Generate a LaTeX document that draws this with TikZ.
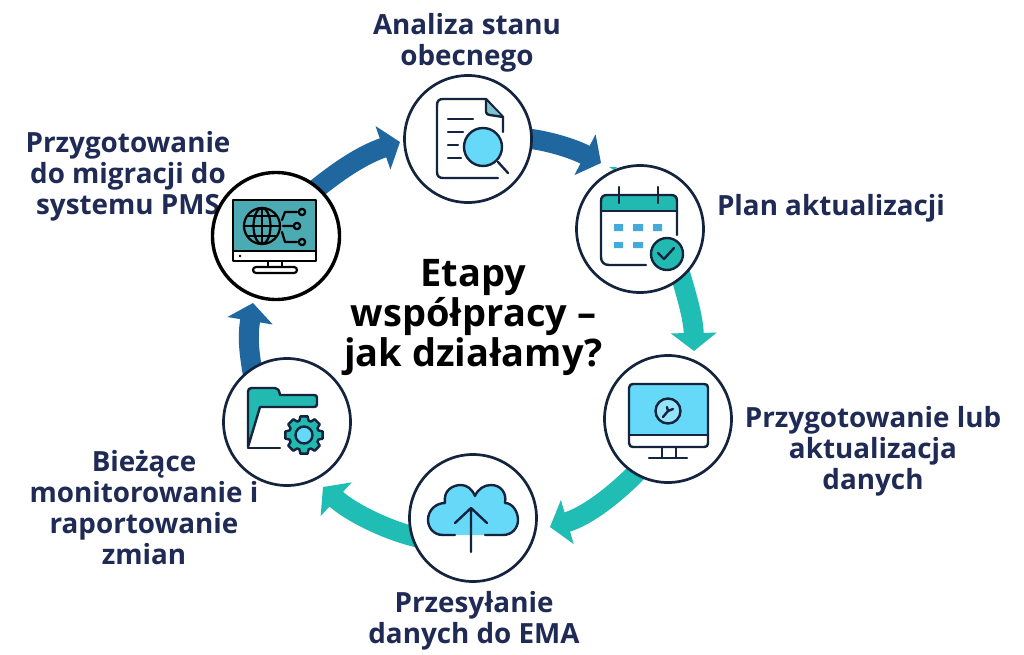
\documentclass[tikz,border=0pt]{standalone}
\usepackage{fontspec}
\setmainfont{Open Sans}
\usetikzlibrary{arrows.meta,backgrounds}
\definecolor{navy}{HTML}{1F2A55}
\definecolor{ink}{HTML}{14243F}
\definecolor{arrowblue}{HTML}{1F679E}
\definecolor{arrowteal}{HTML}{1FBDB4}
\definecolor{iconteal}{HTML}{22B9B0}
\definecolor{screenteal}{HTML}{4BAAB2}
\definecolor{skyfill}{HTML}{66D8F8}
\definecolor{cellblue}{HTML}{45A9DC}
\definecolor{foldteal}{HTML}{7FC4CC}
\tikzset{
  stage/.style={circle,draw=ink,fill=white,line width=2.7pt,minimum size=127pt,inner sep=0pt},
  stagepms/.style={stage,draw=black,line width=3.4pt},
  caption/.style={font=\bfseries\fontsize{27.8}{30.8}\selectfont,text=navy,align=center,inner sep=0pt},
  headline/.style={font=\bfseries\fontsize{38}{40}\selectfont,text=black,align=center,inner sep=0pt},
  fatarrow/.style={line width=20pt,-{Triangle[length=18pt,width=45pt]},shorten <=-8pt},
  icon/.style={draw=ink,line width=2.4pt,line cap=round,line join=round},
  iconk/.style={draw=black,line width=2.2pt,line cap=round,line join=round},
}
\begin{document}
\begin{tikzpicture}[x=1pt,y=-1pt]
\useasboundingbox (0,0) rectangle (1024,655);
% stage circles
\node[stage] (search) at (468,139) {};
\node[stage] (calendar) at (640,229) {};
\node[stage] (monitor) at (668,419) {};
\node[stage] (cloud) at (473,518) {};
\node[stage] (folder) at (287,422) {};
\node[stagepms] (pms) at (276,236) {};
\coordinate (tipa) at (400,142);
\coordinate (tipb) at (601,163);
\coordinate (tipc) at (694,351);
\coordinate (tipd) at (550,527);
\coordinate (tipe) at (323,487);
\coordinate (tipf) at (253,303);
\coordinate (hidden) at (614,170);
\begin{scope}[on background layer]
\fill[white] (0,0) rectangle (1024,655);
\node[caption] (cap1) at (467,42.5) {Analiza stanu\\obecnego};
\node[caption] (cap2) at (831,208) {Plan aktualizacji};
\node[caption] (cap3) at (873,451) {Przygotowanie lub\\aktualizacja\\danych};
\node[caption] (cap4) at (474,620.5) {Przesyłanie\\danych do EMA};
\node[caption] (cap5) at (144,507.5) {Bieżące\\monitorowanie i\\raportowanie\\zmian};
\node[caption] (cap6) at (128,176) {Przygotowanie\\do migracji do\\systemu PMS};
\node[headline] (title) at (473.5,317) {Etapy\\współpracy –\\jak działamy?};
\fill[arrowteal] (hidden) -- ++(-5,-3) -- ++(8,0) -- cycle;
\draw[fatarrow,arrowblue] (pms.49) .. controls (338,171) and (362,155) .. (tipa);
\draw[fatarrow,arrowblue] (search.0) .. controls (550,141) and (574,149) .. (tipb);
\draw[fatarrow,arrowteal] (calendar.-50) .. controls (688,300) and (693.5,320) .. (tipc);
\draw[fatarrow,arrowteal] (monitor.-121) .. controls (618,492) and (588,516) .. (tipd);
\draw[fatarrow,arrowteal] (cloud.196) .. controls (385,530) and (349,511) .. (tipe);
\draw[fatarrow,arrowblue] (folder.123) .. controls (249,352) and (247.4,337) .. (tipf);
\end{scope}
% search icon
\draw[icon] (503,132) -- (503,117) -- (486,99) -- (443,99) .. controls (439,99) and (437,101) .. (437,105) -- (437,172) .. controls (437,176) and (439,178) .. (443,178) -- (498,178);
\fill[foldteal] (486,101) -- (486,114) -- (501,116) -- cycle;
\draw[icon] (486,99) -- (486,112) .. controls (486,114) and (488,115) .. (490,115) -- (503,117);
\draw[icon] (448,119) -- (473,119) (448,132) -- (463,132) (448,145) -- (458,145) (448,158) -- (461,158);
\draw[icon,fill=skyfill] (483,147) circle (19);
\draw[icon] (498,162) -- (508,173);
% calendar icon
\fill[iconteal] (601,211) -- (601,201) .. controls (601,197) and (603,195) .. (607,195) -- (671,195) .. controls (675,195) and (677,197) .. (677,201) -- (677,211) -- cycle;
\draw[icon] (677,235) -- (677,201) .. controls (677,197) and (675,195) .. (671,195) -- (607,195) .. controls (603,195) and (601,197) .. (601,201) -- (601,257) .. controls (601,262) and (604,265) .. (609,265) -- (646,265);
\draw[icon] (601,211) -- (677,211);
\draw[icon] (619,187) -- (619,203) (658,187) -- (658,203);
\fill[cellblue] (614,224) rectangle (623,231) (633,224) rectangle (643,231) (653,224) rectangle (662,231) (614,242) rectangle (623,248) (633,242) rectangle (643,248);
\draw[icon,fill=iconteal] (667,254) circle (16);
\draw[icon] (658,253) -- (664,259) -- (674,248);
% monitor icon
\fill[skyfill] (629,435) -- (629,388) .. controls (629,385) and (631,384) .. (633,384) -- (704,384) .. controls (707,384) and (708,385) .. (708,388) -- (708,435) -- cycle;
\draw[icon] (633,384) -- (704,384) .. controls (707,384) and (708,385) .. (708,388) -- (708,443) .. controls (708,446) and (707,447) .. (704,447) -- (633,447) .. controls (631,447) and (629,446) .. (629,443) -- (629,388) .. controls (629,385) and (631,384) .. (633,384) -- cycle;
\draw[icon] (629,435) -- (708,435);
\draw[icon] (662,447) -- (662,458) (676,447) -- (676,458) (649,458) -- (687,458);
\draw[icon,fill=white!30!skyfill] (668,411) circle (12.5);
\draw[icon] (663,417) -- (668,411) -- (673,409) (668,411) -- (667,407);
% cloud icon
\fill[skyfill] (455,535) -- (443,535) .. controls (433,535) and (428,527) .. (428,520) .. controls (428,510) and (436,503) .. (445,503) .. controls (443,490) and (453,485) .. (461,485) .. controls (467,485) and (472,489) .. (475,496) .. controls (478,489) and (484,485) .. (491,485) .. controls (500,485) and (507,492) .. (505,503) .. controls (512,503) and (518,511) .. (518,520) .. controls (518,528) and (512,535) .. (503,535) -- (485,535) -- cycle;
\draw[icon] (455,535) -- (443,535) .. controls (433,535) and (428,527) .. (428,520) .. controls (428,510) and (436,503) .. (445,503) .. controls (443,490) and (453,485) .. (461,485) .. controls (467,485) and (472,489) .. (475,496) .. controls (478,489) and (484,485) .. (491,485) .. controls (500,485) and (507,492) .. (505,503) .. controls (512,503) and (518,511) .. (518,520) .. controls (518,528) and (512,535) .. (503,535) -- (485,535);
\draw[icon] (471,552) -- (471,508) (455,523) -- (471,508) -- (487,523);
% folder icon
\draw[icon,fill=iconteal] (248,447) -- (248,392) .. controls (248,389) and (249,388) .. (252,388) -- (275,388) .. controls (278,388) and (279,390) .. (280,395) -- (314,395) .. controls (316,395) and (317,396) .. (317,398) -- (317,404) .. controls (317,406) and (316,407) .. (314,407) -- (260,407) -- cycle;
\draw[icon] (248,448) -- (280,448);
\begin{scope}[shift={(304,435)}]
\draw[icon,fill=iconteal] (-11:19)
  foreach \a in {0,45,...,315} { -- (\a-11:19) -- (\a+11:19) -- (\a+18:15) -- (\a+27:15) } -- cycle;
\draw[icon,fill=skyfill] (0,0) circle (8.5);
\end{scope}
% pms icon
\draw[iconk,fill=screenteal] (233,200) rectangle (316,251);
\draw[iconk,fill=white] (233,251) rectangle (316,261);
\fill[black] (240,256) circle (1.4);
\draw[iconk] (268,261) -- (268,267) (282,261) -- (282,267);
\draw[iconk,fill=white,rounded corners=3pt] (253,267) rectangle (297,273);
\draw[iconk] (262,226) circle (18);
\draw[iconk] (262,226) ellipse (8.5 and 18);
\draw[iconk] (262,208) -- (262,244) (244,226) -- (280,226);
\draw[iconk] (247,216) -- (277,216) (247,236) -- (277,236);
\draw[iconk] (282,220) -- (285,212) -- (297,212) (283,226) -- (294,226) (282,232) -- (285,242) -- (297,242);
\draw[iconk] (302,212) circle (3.2) (297,226) circle (3.2) (302,242) circle (3.2);
\end{tikzpicture}
\end{document}
